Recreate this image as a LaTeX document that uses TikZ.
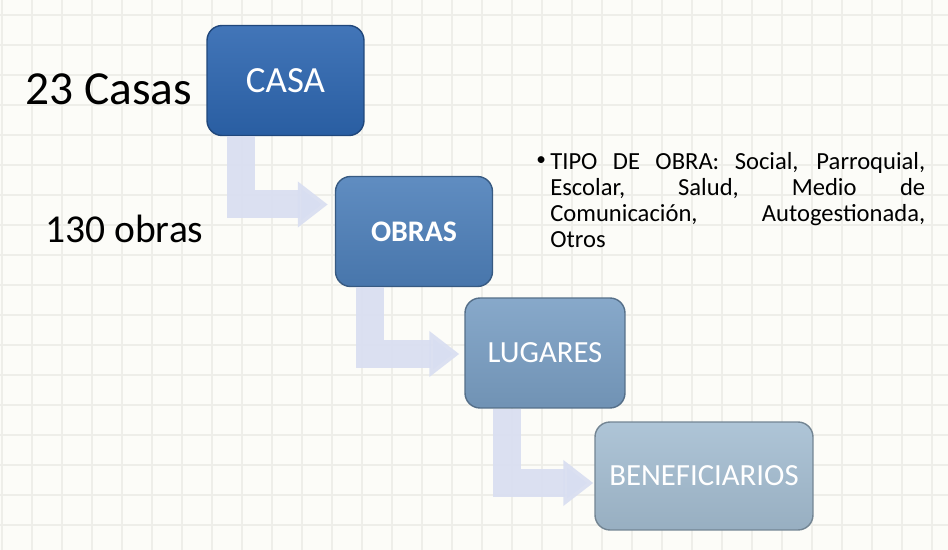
\documentclass[tikz,border=0pt]{standalone}
\usepackage{fontspec}
\setmainfont{Carlito}
\definecolor{bgpaper}{RGB}{252,252,248}
\definecolor{gridline}{RGB}{238,238,233}
\definecolor{bentarrow}{RGB}{216,222,241}
\definecolor{casablue}{RGB}{45,102,176}
\definecolor{obrasblue}{RGB}{78,128,186}
\definecolor{lugblue}{RGB}{122,159,196}
\definecolor{benblue}{RGB}{165,190,210}
\usetikzlibrary{arrows.meta,positioning,calc}
\begin{document}
\begin{tikzpicture}[x=0.02cm, y=-0.02cm,
  levelbox/.style={draw=#1!70!black, line width=0.8pt, top color=#1!90!white,
    bottom color=#1!92!black, rounded corners=0.3cm, inner sep=0pt, text=white,
    minimum width=3.14cm, minimum height=2.2cm, align=center},
  bentarrow/.style={draw=bentarrow, draw opacity=0.9, line width=0.56cm,
    line join=miter, -{Triangle[length=0.6cm, width=0.88cm]}},
  sidelabel/.style={anchor=base west, inner sep=0pt}]

% --- Paper and grid ---
\fill[bgpaper] (0,0) rectangle (948,550);
\useasboundingbox (0,0) rectangle (948,550);
\foreach \gx in {2,32,...,932}
  \draw[gridline, line width=0.6pt] (\gx,0) -- (\gx,550);
\foreach \gy in {15,45,...,545}
  \draw[gridline, line width=0.6pt] (0,\gy) -- (948,\gy);

% --- Levels ---
\node[levelbox=casablue, font=\fontsize{21}{25}\selectfont]
  (casa) at (285.5,80.5) {CASA};
\node[levelbox=obrasblue, font=\bfseries\fontsize{17}{20}\selectfont]
  (obras) at (414,231.5) {OBRAS};
\node[levelbox=lugblue, minimum width=3.2cm, font=\fontsize{17.5}{21}\selectfont]
  (lugares) at (545,353) {LUGARES};
\node[levelbox=benblue, minimum width=4.36cm, minimum height=2.16cm,
  font=\fontsize{17.5}{21}\selectfont]
  (benef) at (704,476) {BENEFICIARIOS};

% --- Bent arrows ---
\draw[bentarrow] ($(casa.south west)+(35,0)$) |- ($(obras.west)+(-7,-27)$);
\draw[bentarrow] ($(obras.south west)+(35,0)$) |- ($(lugares.west)+(-5,1)$);
\draw[bentarrow] ($(lugares.south west)+(43,0)$) |- ($(benef.west)+(-1,7)$);

% --- Side counts ---
\node[sidelabel, font=\fontsize{27}{32}\selectfont] (casas) at (25,105) {23 Casas};
\node[sidelabel, font=\fontsize{22.5}{27}\selectfont] (nobras) at (45,243) {130 obras};

% --- Type of work ---
\node[anchor=north west, inner sep=0pt, font=\fontsize{11}{12}\selectfont]
  (dot) at (536,156) {•};
\node[anchor=north west, text width=7.5cm, align=justify, inner sep=0pt,
  font=\fontsize{14}{14.8}\selectfont]
  (tipo) at (550,152) {TIPO DE OBRA: Social, Parroquial,\linebreak
  Escolar, Salud, Medio de\linebreak
  Comunicación, Autogestionada,\linebreak
  Otros};

\end{tikzpicture}
\end{document}
